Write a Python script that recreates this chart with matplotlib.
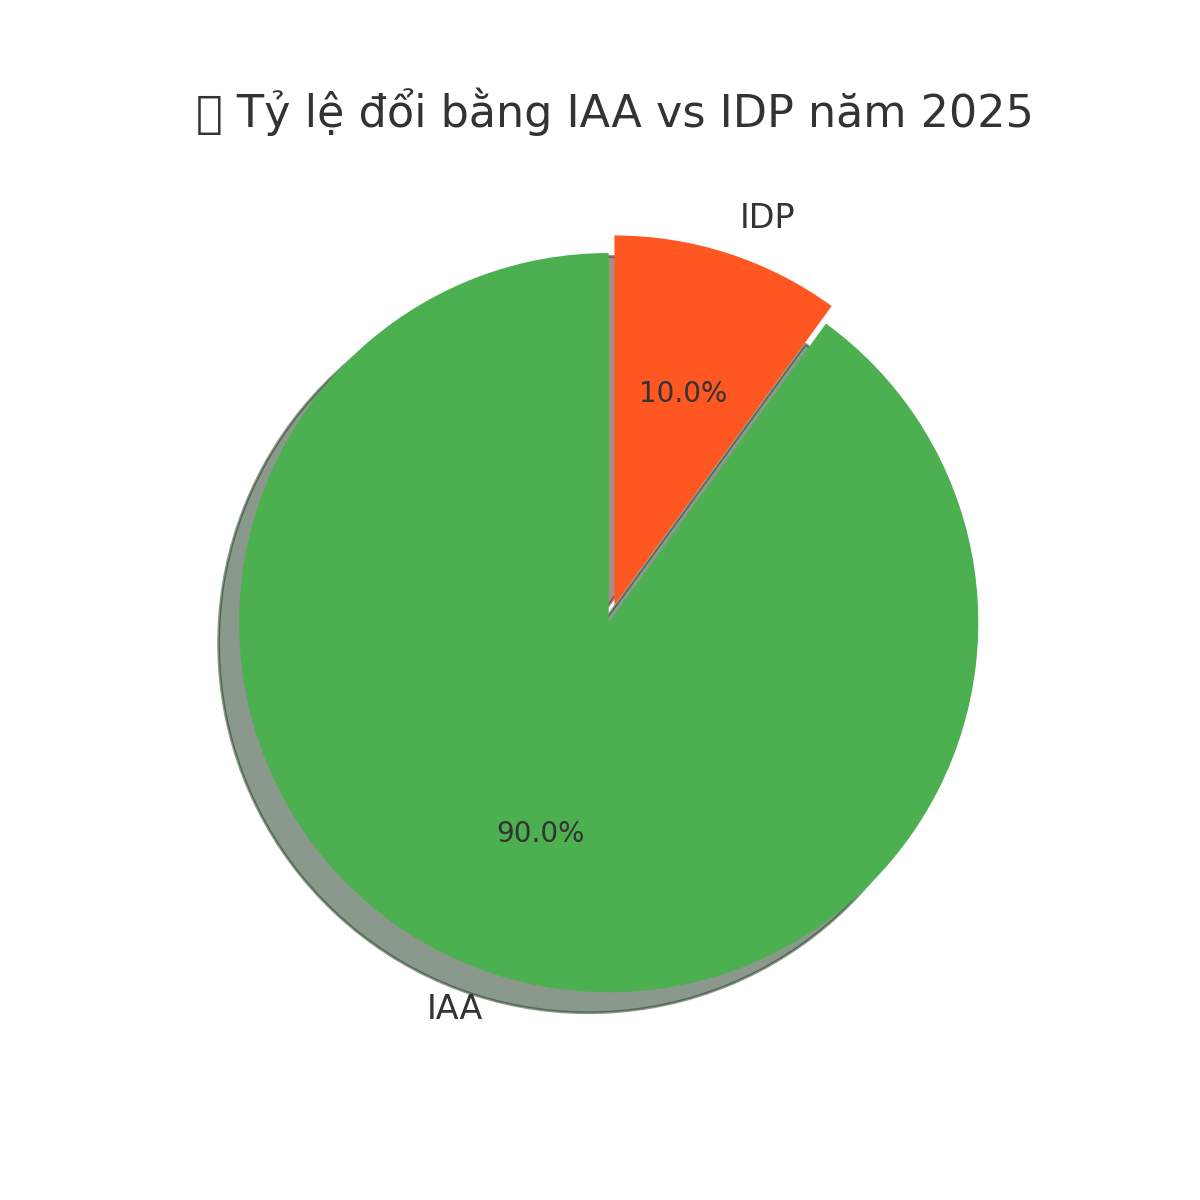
import matplotlib.pyplot as plt

labels = ["IAA", "IDP"]
sizes = [90, 10]
colors = ["#4CAF50", "#FF5722"]
explode = [0, 0.05]

fig, ax = plt.subplots(figsize=(6, 6), dpi=200)

wedges, texts, autotexts = ax.pie(
    sizes,
    labels=labels,
    colors=colors,
    explode=explode,
    autopct="%1.1f%%",
    startangle=90,
    shadow=True,
    textprops={"fontsize": 12, "color": "#333333"},
)
for t in autotexts:
    t.set_fontsize(10)

ax.set_xlim(-1.233, 1.267)
ax.set_ylim(-1.205, 1.295)

ax.set_title("📊 Tỷ lệ đổi bằng IAA vs IDP năm 2025", fontsize=16, color="#333333")

plt.savefig("out.png", dpi=200)
